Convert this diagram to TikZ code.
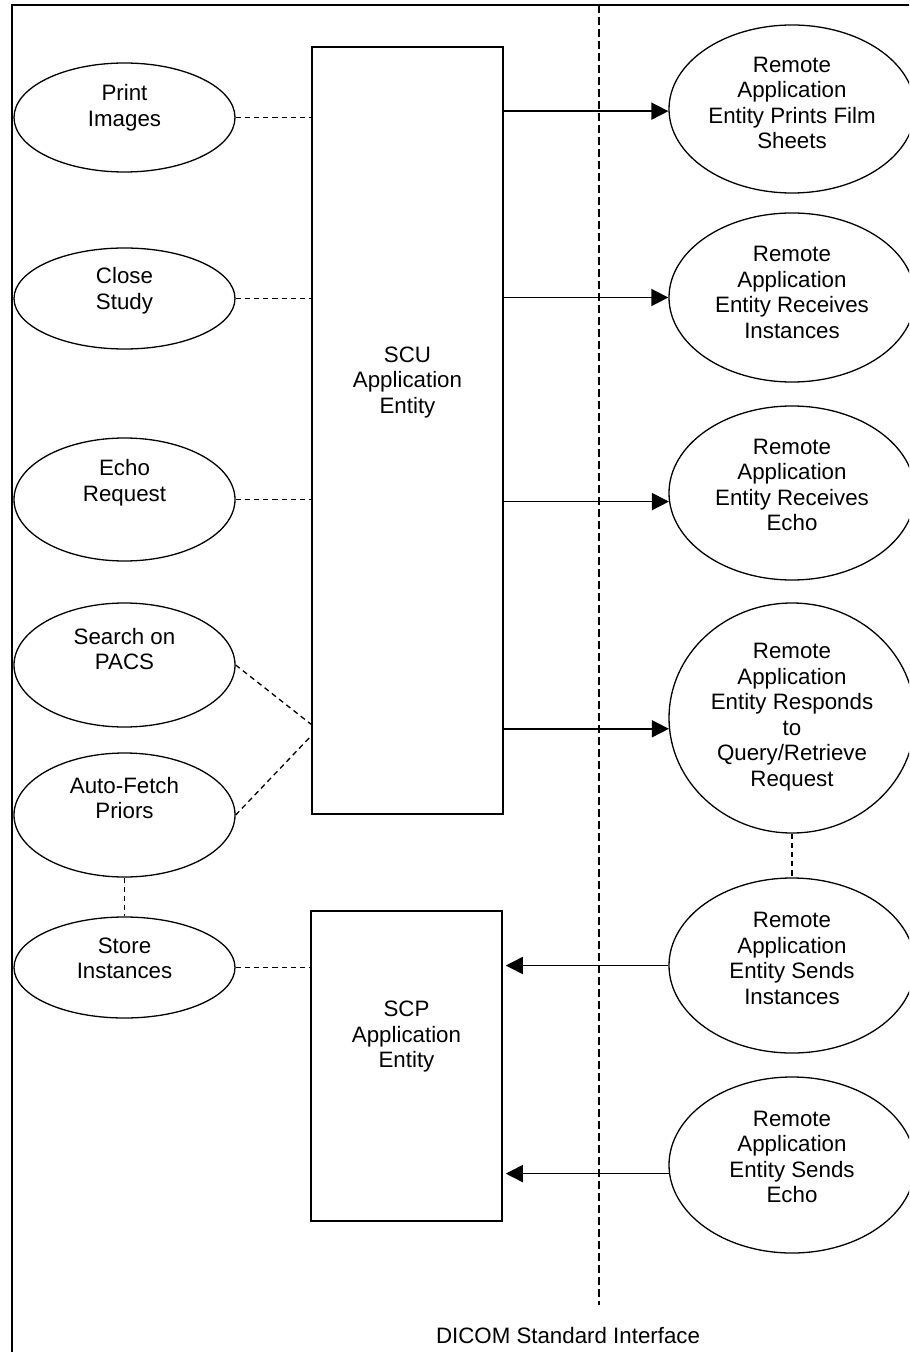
\documentclass[tikz,border=0pt]{standalone}
\usepackage{fontspec}
\setmainfont{Liberation Sans}
\usetikzlibrary{shapes, arrows.meta}
\tikzstyle{usecase} = [ellipse, draw, line width=0.65pt, inner sep=0pt, minimum width=110.5pt]
\tikzstyle{remote} = [ellipse, draw, line width=0.65pt, inner sep=0pt, minimum width=123pt]
\tikzstyle{entity} = [rectangle, draw, line width=0.75pt, inner sep=0pt, minimum width=95.5pt]
\tikzstyle{txt} = [align=center, font=\fontsize{11.15pt}{12.75pt}\selectfont, inner sep=0pt]
\tikzstyle{dline} = [draw, line width=0.65pt, dash pattern=on 2.6pt off 2pt]
\tikzstyle{sepline} = [draw, line width=0.65pt, dash pattern=on 4pt off 2pt]
\tikzstyle{flow} = [draw, line width=0.8pt, -{Triangle[length=8.5pt, width=8.5pt]}]

\begin{document}
\begin{tikzpicture}[x=0.5pt, y=-0.5pt]
	\useasboundingbox (0,0) rectangle (909,1352);
	\clip (0,0) rectangle (909,1352);
	\draw [line width=1pt] (12,1400) -- (12,5) -- (960,5);

	% local use cases
	\node [usecase, minimum height=54.5pt, label={[txt, yshift=5pt]center:{Print\\Images}}] (print) at (124.5,117.5) {};
	\node [usecase, minimum height=50.5pt, label={[txt, yshift=4pt]center:{Close\\Study}}] (close) at (124.5,298.5) {};
	\node [usecase, minimum height=61.5pt, label={[txt, yshift=8.5pt]center:{Echo\\Request}}] (echo) at (124.5,499.5) {};
	\node [usecase, minimum height=62pt, label={[txt, yshift=8pt]center:{Search on\\PACS}}] (search) at (124.5,665) {};
	\node [usecase, minimum height=62pt, label={[txt, yshift=8.5pt]center:{Auto-Fetch\\Priors}}] (auto) at (124.5,815) {};
	\node [usecase, minimum height=50.5pt, label={[txt, yshift=4.5pt]center:{Store\\Instances}}] (store) at (124.5,967.5) {};

	% application entities
	\node [entity, minimum height=383.5pt, label={[txt, yshift=24pt]center:{SCU\\Application\\Entity}}] (scu) at (407.5,430.5) {};
	\node [entity, minimum height=155pt, label={[txt, yshift=14.5pt]center:{SCP\\Application\\Entity}}] (scp) at (406.5,1066) {};

	% remote side
	\node [remote, minimum height=84pt, label={[txt, yshift=3pt]center:{Remote\\Application\\Entity Prints Film\\Sheets}}] (remprint) at (792,109) {};
	\node [remote, minimum height=84.5pt, label={[txt, yshift=2.5pt]center:{Remote\\Application\\Entity Receives\\Instances}}] (remstore) at (792,297.5) {};
	\node [remote, minimum height=87pt, label={[txt, yshift=4pt]center:{Remote\\Application\\Entity Receives\\Echo}}] (remecho) at (792,493) {};
	\node [remote, minimum height=115pt, label={[txt, yshift=0.5pt]center:{Remote\\Application\\Entity Responds\\to\\Query/Retrieve\\Request}}] (remquery) at (792,718) {};
	\node [remote, minimum height=87.5pt, label={[txt, yshift=3.5pt]center:{Remote\\Application\\Entity Sends\\Instances}}] (remsend) at (792,965.5) {};
	\node [remote, minimum height=88pt, label={[txt, yshift=4pt]center:{Remote\\Application\\Entity Sends\\Echo}}] (remsecho) at (792,1165) {};

	\node [txt] (dicom) at (568,1336) {DICOM Standard Interface};
	\path [sepline] (599,5) -- (599,1305);

	\coordinate (scu-s) at (312,725);
	\coordinate (scu-a) at (312,735);

	\path [dline] (print) -- (print -| scu.west);
	\path [dline] (close) -- (close -| scu.west);
	\path [dline] (echo) -- (echo -| scu.west);
	\path [dline] (search.east) -- (scu-s);
	\path [dline] (auto.east) -- (scu-a);
	\path [dline] (auto) -- (store);
	\path [dline] (store) -- (store -| scp.west);
	\path [dline] (remquery) -- (remsend);

	\path [flow] (scu.east |- remprint.181) -- (remprint.181);
	\path [flow] (scu.east |- remstore.west) -- (remstore.west);
	\path [flow] (scu.east |- remecho.184) -- (remecho.184);
	\path [flow] (scu.east |- remquery.185) -- (remquery.185);
	\path [flow, shorten >=1.5pt] (remsend.west) -- (scp.east |- remsend.west);
	\path [flow, shorten >=1.5pt] (remsecho.184) -- (scp.east |- remsecho.184);
\end{tikzpicture}
\end{document}
